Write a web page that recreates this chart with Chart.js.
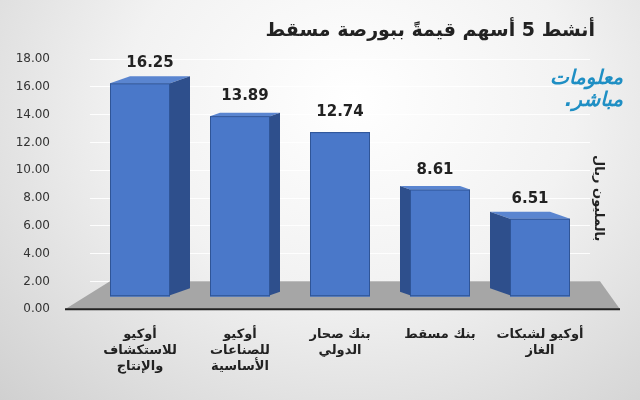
<!DOCTYPE html>
<html><head><meta charset="utf-8">
<script src="https://cdn.jsdelivr.net/npm/chart.js@4/dist/chart.umd.min.js"></script>
<style>
body{margin:0;width:640px;height:400px;overflow:hidden;background:radial-gradient(ellipse at 55% 25%,#ffffff 0%,#f2f2f2 45%,#d0d0d0 100%);font-family:"DejaVu Sans",sans-serif;position:relative}
#wrap{position:absolute;left:0;top:0;width:640px;height:400px}
#title{position:absolute;right:45px;top:18px;font-size:19px;font-weight:bold;color:#222;direction:rtl}
#logo{position:absolute;left:533px;top:66px;color:#1f8fc4;font-weight:bold;font-style:italic;font-size:20px;line-height:22px;direction:rtl;text-align:right;width:90px}
#unit{position:absolute;left:592px;top:155px;writing-mode:vertical-rl;font-size:13px;font-weight:bold;color:#222;direction:rtl}
</style></head><body>
<div id="wrap"><canvas id="c" width="640" height="400"></canvas></div>
<div id="title">أنشط 5 أسهم قيمةً ببورصة مسقط</div>
<div id="logo">معلومات<br>مباشر.</div>
<div id="unit">بالمليون ريال</div>
<script>
const categories = [
  ["أوكيو","للاستكشاف","والإنتاج"],
  ["أوكيو","للصناعات","الأساسية"],
  ["بنك صحار","الدولي"],
  ["بنك مسقط"],
  ["أوكيو لشبكات","الغاز"]
];
const values = [16.25, 13.89, 12.74, 8.61, 6.51];
const yTicks = [0,2,4,6,8,10,12,14,16,18];

// floor + axis + 3d sides + value labels
const decor = {
  id:'decor',
  beforeDatasetsDraw(chart){
    const {ctx, chartArea:a, scales:{y}} = chart;
    const y0 = y.getPixelForValue(0);
    ctx.save();
    ctx.fillStyle = '#a6a6a6';
    ctx.beginPath();
    ctx.moveTo(a.left+20, y0-28); ctx.lineTo(a.right+10, y0-28);
    ctx.lineTo(a.right+30, y0); ctx.lineTo(a.left-25, y0); ctx.closePath(); ctx.fill();
    ctx.strokeStyle = '#222'; ctx.lineWidth = 2;
    ctx.beginPath(); ctx.moveTo(a.left-25, y0); ctx.lineTo(a.right+30, y0); ctx.stroke();
    ctx.restore();
  },
  afterDatasetsDraw(chart){
    const {ctx, scales:{y}} = chart;
    const meta = chart.getDatasetMeta(0);
    const y0 = y.getPixelForValue(0);
    ctx.save();
    meta.data.forEach((bar, i) => {
      const w = bar.width, l = bar.x - w/2, r = bar.x + w/2, t = bar.y;
      const dx = -(bar.x - 340) / 10, dy = -Math.abs(dx) * 0.35;
      if (Math.abs(dx) > 1) {
        ctx.fillStyle = '#5a85d0';
        ctx.beginPath();
        ctx.moveTo(l, t); ctx.lineTo(r, t); ctx.lineTo(r+dx, t+dy); ctx.lineTo(l+dx, t+dy); ctx.closePath(); ctx.fill();
        const sx = dx > 0 ? r : l;
        ctx.fillStyle = '#2e4f8c';
        ctx.beginPath();
        ctx.moveTo(sx, t); ctx.lineTo(sx+dx, t+dy); ctx.lineTo(sx+dx, y0-14+dy); ctx.lineTo(sx, y0-14); ctx.closePath(); ctx.fill();
      }
      ctx.strokeStyle = '#2f5597'; ctx.lineWidth = 1;
      ctx.strokeRect(l+0.5, t+0.5, w-1, y0-14-t);
      ctx.fillStyle = '#222';
      ctx.font = 'bold 15px "DejaVu Sans"';
      ctx.textAlign = 'center';
      ctx.fillText(values[i].toFixed(2), bar.x + dx/2, t - 16);
    });
    ctx.restore();
  }
};

new Chart(document.getElementById('c'), {
  type:'bar',
  data:{ labels:categories, datasets:[{ data:values, backgroundColor:'#4a78c9', barPercentage:0.6, categoryPercentage:1, base:0.9 }] },
  options:{
    responsive:false, animation:false,
    layout:{padding:{left:0,right:50,top:59,bottom:16}},
    plugins:{legend:{display:false},tooltip:{enabled:false}},
    scales:{
      x:{ grid:{display:false}, border:{display:false},
          ticks:{color:'#222',font:{family:'DejaVu Sans',size:13,weight:'bold'},padding:10} },
      y:{ min:0, max:18, afterBuildTicks(s){ s.ticks = yTicks.map(v=>({value:v})); },
          grid:{color:'rgba(255,255,255,0.9)',drawTicks:false}, border:{display:false},
          afterFit(s){ s.width = 90; },
          ticks:{color:'#333',font:{family:'DejaVu Sans',size:12},padding:40,callback:v=>v.toFixed(2)} }
    }
  },
  plugins:[decor]
});
</script>
</body></html>
